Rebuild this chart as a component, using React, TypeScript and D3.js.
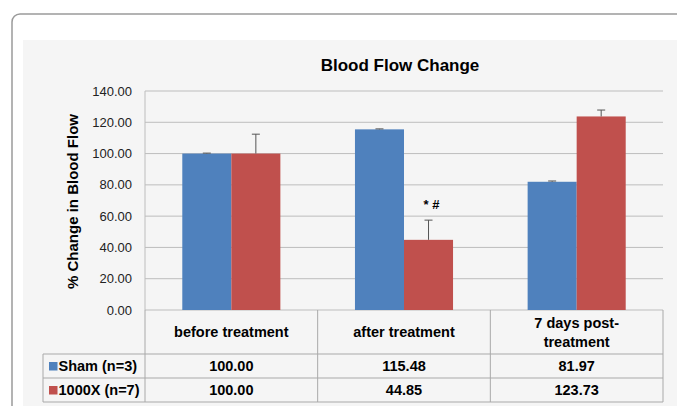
import React from "react";
import * as d3 from "d3";

const categoryLines: string[][] = [["before treatment"], ["after treatment"], ["7 days post-", "treatment"]];
const seriesNames = ["Sham (n=3)", "1000X (n=7)"];
const shamValues = [100.0, 115.48, 81.97];
const shamErrors = [0.3, 0.3, 0.5];
const x1000Values = [100.0, 44.85, 123.73];
const x1000Errors = [12.4, 12.6, 4.1];
const yTicks = [0, 20, 40, 60, 80, 100, 120, 140];
const annotationText = "* #";
const annotationIndex = 1;
const seriesColors = ["#4f81bd", "#c0504d"];

export default function App() {
  const W = 677, H = 406;
  const left = 145, right = 663, top = 91, bottom = 310;
  const tableLeft = 43;
  const rowH = [310, 354, 378, 402];
  const font = "'Liberation Sans', Arial, sans-serif";

  const y = d3.scaleLinear().domain([0, 140]).range([bottom, top]);
  const x = d3.scaleBand<number>().domain([0, 1, 2]).range([left, right]);
  const bw = x.bandwidth();
  const barW = bw * 0.284;

  const series = [
    { values: shamValues, errors: shamErrors },
    { values: x1000Values, errors: x1000Errors },
  ];

  return (
    <svg width={W} height={H} style={{ position: "absolute", left: 0, top: 0 }} fontFamily={font}>
      <rect x={0} y={0} width={W} height={H} fill="#ffffff" />
      <rect x={12} y={14} width={W + 20} height={H + 20} rx={8} fill="#ffffff" stroke="#9a9a9a" strokeWidth={1.5} />
      <rect x={23} y={40} width={W - 23} height={H - 40} fill="#f5f5f5" />
      <text x={400} y={71} textAnchor="middle" fontSize={17} fontWeight="bold" fill="#000">Blood Flow Change</text>
      <text transform={`translate(78,${(top + bottom) / 2 + 1}) rotate(-90)`} textAnchor="middle" fontSize={15} fontWeight="bold" fill="#000">% Change in Blood Flow</text>
      {yTicks.map((t) => (
        <g key={t}>
          <line x1={left} x2={right} y1={y(t)} y2={y(t)} stroke="#bdbdbd" strokeWidth={1} />
          <text x={132} y={y(t) + 4.5} textAnchor="end" fontSize={13} fill="#222">{t.toFixed(2)}</text>
        </g>
      ))}
      <line x1={left} x2={left} y1={top} y2={bottom} stroke="#bdbdbd" />
      {series.map((s, si) =>
        s.values.map((v, i) => {
          const bx = (x(i) as number) + bw / 2 - barW + si * barW;
          const cx = bx + barW / 2;
          const eTop = y(v + s.errors[i]);
          return (
            <g key={`${si}-${i}`}>
              <rect x={bx} y={y(v)} width={barW} height={bottom - y(v)} fill={seriesColors[si]} />
              <line x1={cx} x2={cx} y1={y(v)} y2={eTop} stroke="#555" strokeWidth={1} />
              <line x1={cx - 4} x2={cx + 4} y1={eTop} y2={eTop} stroke="#555" strokeWidth={1} />
            </g>
          );
        })
      )}
      <text
        x={(x(annotationIndex) as number) + bw / 2 + barW / 2 + 3}
        y={y(x1000Values[annotationIndex] + x1000Errors[annotationIndex]) - 11}
        textAnchor="middle" fontSize={13} fontWeight="bold" fill="#000"
      >{annotationText}</text>
      {/* data table */}
      <g stroke="#a9a9a9" strokeWidth={1} fill="none">
        <line x1={left} x2={left} y1={rowH[0]} y2={rowH[3]} />
        {[1, 2].map((i) => (
          <line key={i} x1={x(i) as number} x2={x(i) as number} y1={rowH[0]} y2={rowH[3]} />
        ))}
        <line x1={right} x2={right} y1={rowH[0]} y2={rowH[3]} />
        <line x1={tableLeft} x2={right} y1={rowH[1]} y2={rowH[1]} />
        <line x1={tableLeft} x2={right} y1={rowH[2]} y2={rowH[2]} />
        <line x1={tableLeft} x2={right} y1={rowH[3]} y2={rowH[3]} />
        <line x1={tableLeft} x2={tableLeft} y1={rowH[1]} y2={rowH[3]} />
      </g>
      {categoryLines.map((lines, i) => {
        const cx = (x(i) as number) + bw / 2;
        const mid = (rowH[0] + rowH[1]) / 2;
        return (
          <text key={i} x={cx} textAnchor="middle" fontSize={14.5} fontWeight="bold" fill="#000">
            {lines.map((l, j) => (
              <tspan key={j} x={cx} y={mid + 5 + (j - (lines.length - 1) / 2) * 19}>{l}</tspan>
            ))}
          </text>
        );
      })}
      {series.map((s, si) => {
        const cy = (rowH[si + 1] + rowH[si + 2]) / 2;
        return (
          <g key={si}>
            <rect x={49} y={cy - 4} width={8.5} height={8.5} fill={seriesColors[si]} />
            <text x={58.5} y={cy + 5} fontSize={14.5} fontWeight="bold" fill="#000">{seriesNames[si]}</text>
            {s.values.map((v, i) => (
              <text key={i} x={(x(i) as number) + bw / 2} y={cy + 5} textAnchor="middle" fontSize={14.5} fontWeight="bold" fill="#000">{v.toFixed(2)}</text>
            ))}
          </g>
        );
      })}
    </svg>
  );
}
